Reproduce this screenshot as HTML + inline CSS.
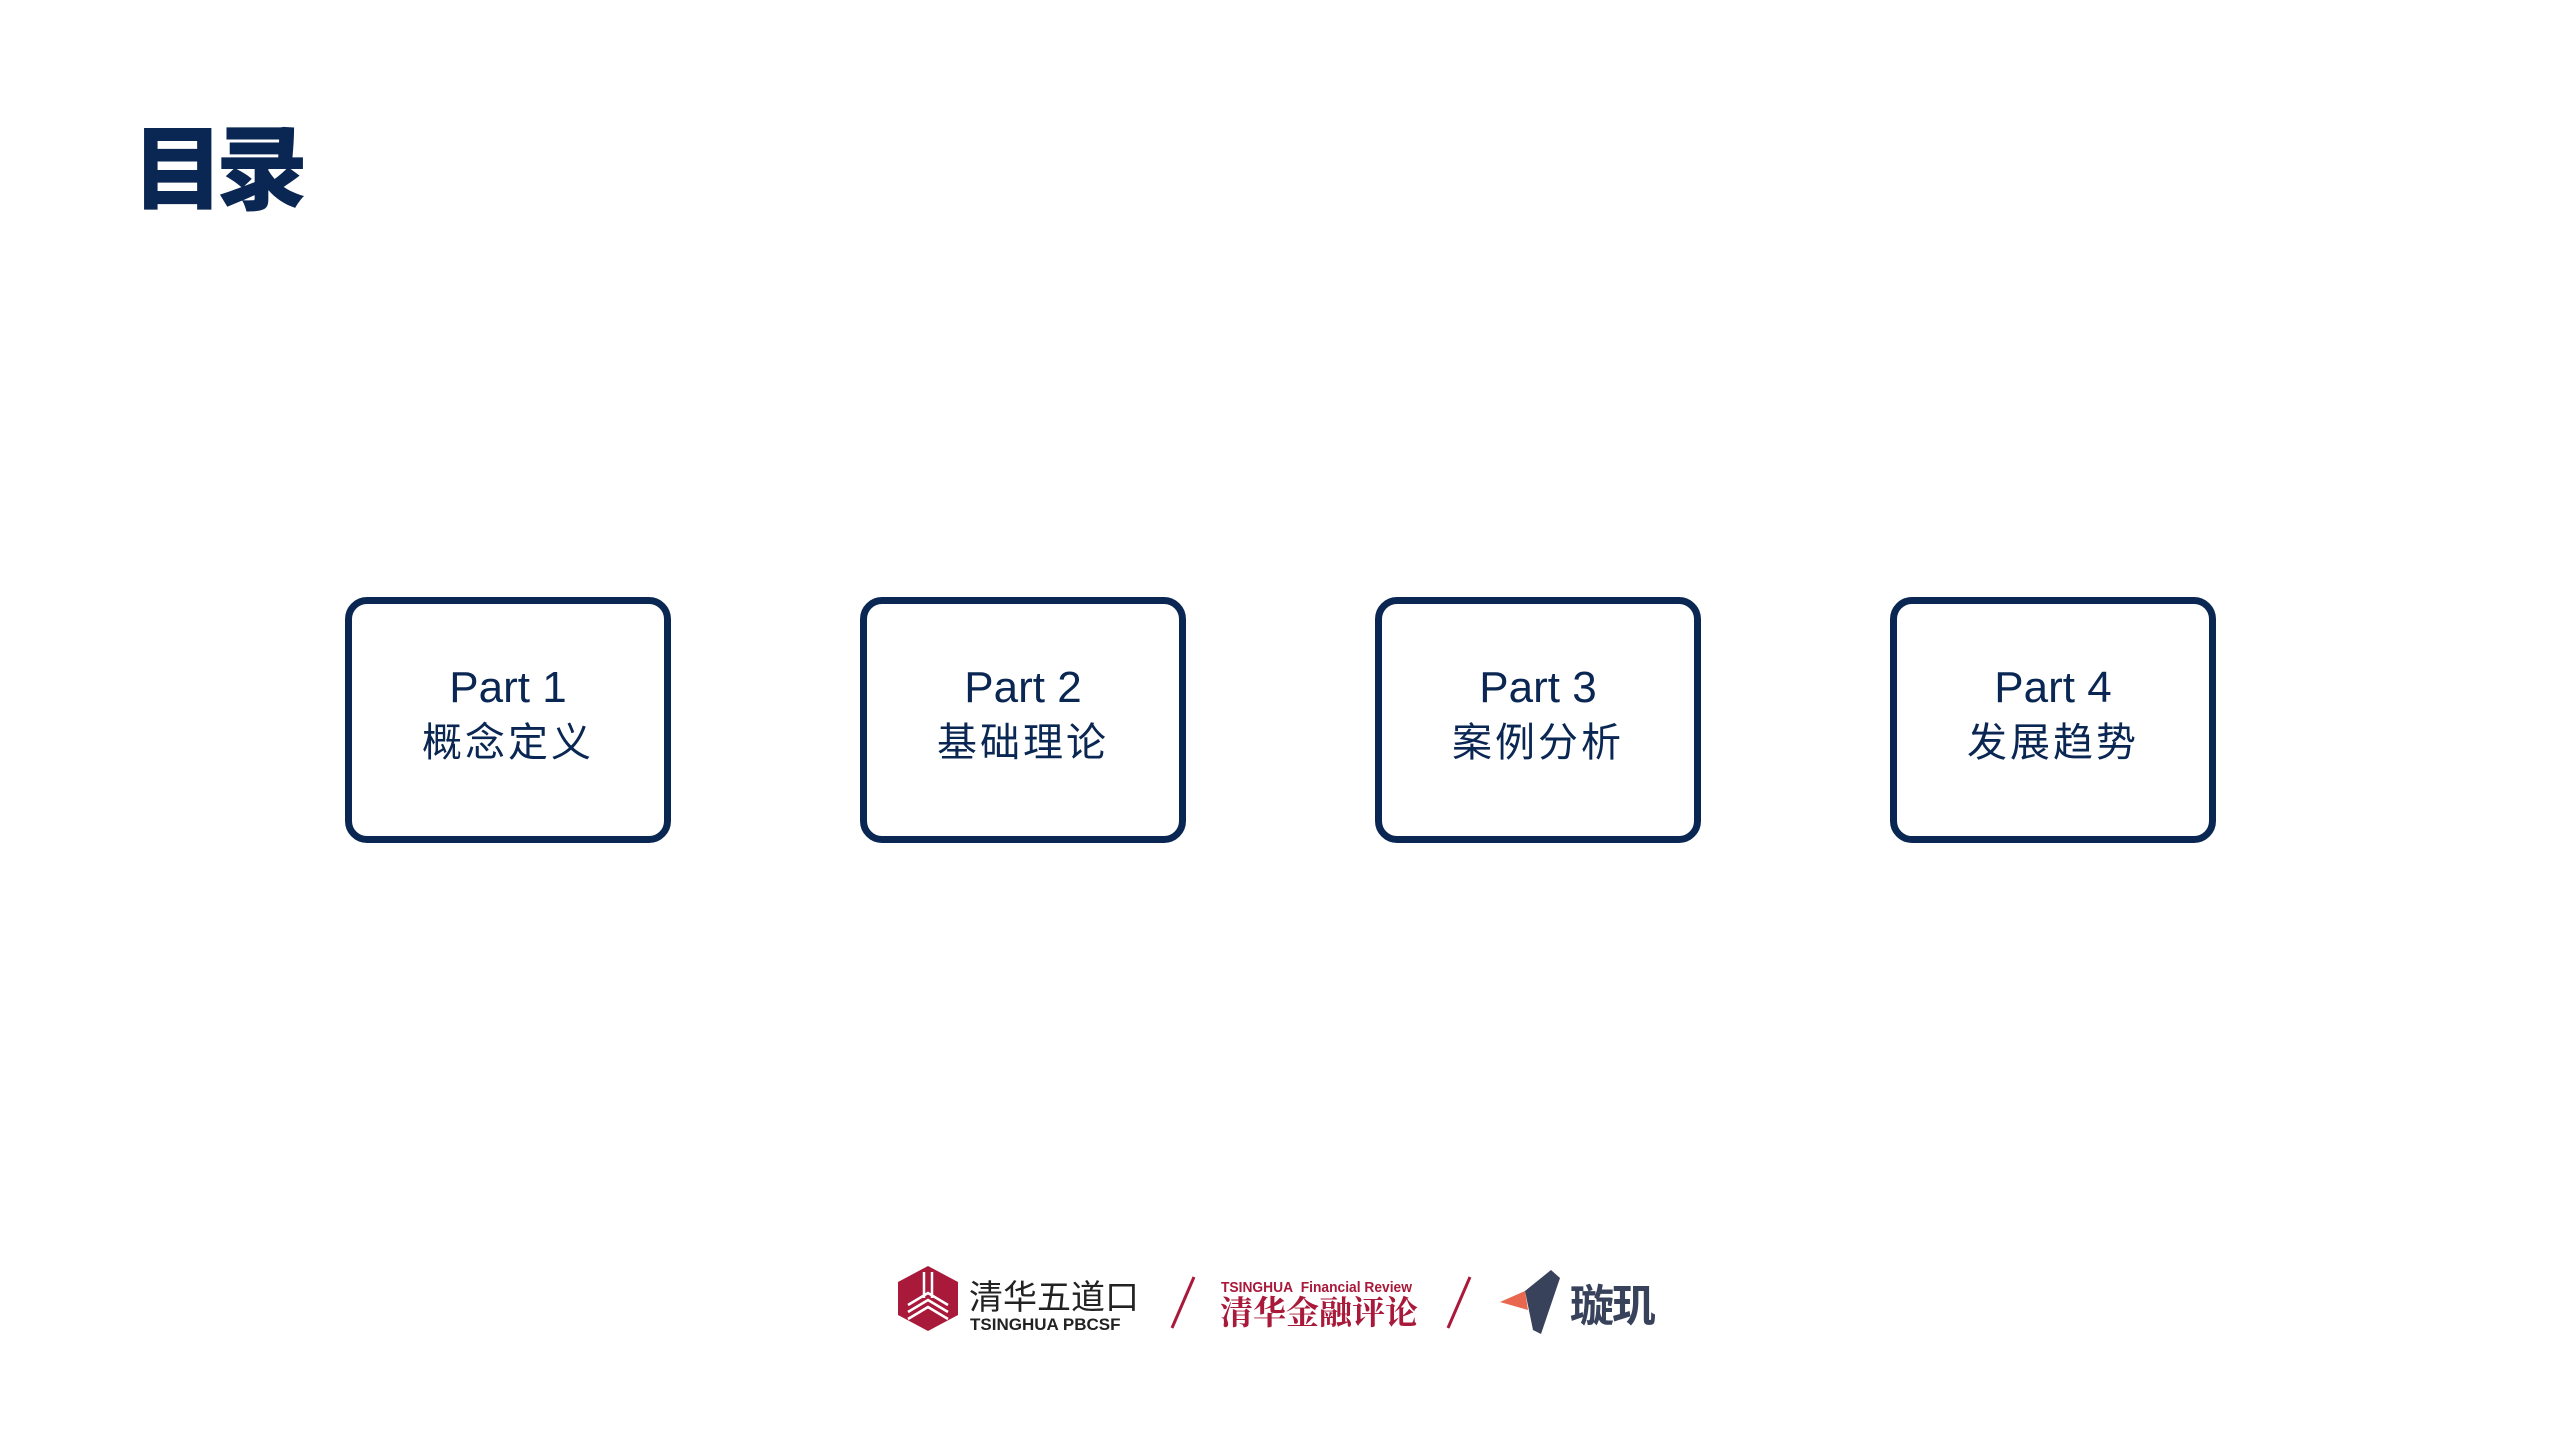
<!DOCTYPE html>
<html><head><meta charset="utf-8"><style>
*{margin:0;padding:0;box-sizing:border-box}
body{width:2560px;height:1440px;background:#fff;position:relative;overflow:hidden;font-family:"Liberation Sans","Noto Sans CJK SC",sans-serif;color:#0a2652}
.t{position:absolute;left:132px;top:117px;font-size:92px;font-weight:900;letter-spacing:-8px;line-height:1;font-family:"Noto Sans CJK SC",sans-serif;color:#0a2652}
.b{position:absolute;top:597px;width:326px;height:246px;border:7px solid #0a2652;border-radius:22px;text-align:center}
.p{position:absolute;left:0;right:0;top:62px;font-size:44px;line-height:1}
.c{position:absolute;left:0;right:0;top:115px;font-size:40px;line-height:1;font-family:"Noto Sans CJK SC",sans-serif;letter-spacing:3px}
.a{position:absolute;white-space:nowrap;line-height:1}
</style></head><body>
<div class="t">目录</div>
<div class="b" style="left:345px"><div class="p">Part 1</div><div class="c">概念定义</div></div>
<div class="b" style="left:860px"><div class="p">Part 2</div><div class="c">基础理论</div></div>
<div class="b" style="left:1375px"><div class="p">Part 3</div><div class="c">案例分析</div></div>
<div class="b" style="left:1890px"><div class="p">Part 4</div><div class="c">发展趋势</div></div>

<svg style="position:absolute;left:0;top:0" width="2560" height="1440">
<polygon points="898,1282 928,1266 958,1282 958,1315 928,1331 898,1315" fill="#a8193a"/>
<g stroke="#fff" stroke-width="2.5" fill="none">
<path d="M924,1272v26M932,1272v26M908,1305l20,-12l20,12M908,1312l20,-12l20,12M908,1319l20,-12l20,12"/>
</g>
<line x1="1194" y1="1277" x2="1172" y2="1328" stroke="#a8193a" stroke-width="3"/>
<line x1="1470" y1="1277" x2="1448" y2="1328" stroke="#a8193a" stroke-width="3"/>
<polygon points="1525,1291 1500,1302 1528,1310" fill="#e8674e"/>
<polygon points="1551,1270 1560,1278 1541,1334 1533,1330 1525,1291" fill="#38425a"/>
</svg>
<div class="a" style="left:969px;top:1278px;font-size:34px;font-family:'Noto Sans CJK SC',sans-serif;color:#222">清华五道口</div>
<div class="a" style="left:970px;top:1316px;font-size:17px;font-weight:bold;color:#222">TSINGHUA PBCSF</div>
<div class="a" style="left:1221px;top:1280px;font-size:15px;font-weight:bold;color:#a8193a;transform:scaleX(0.92);transform-origin:left">TSINGHUA&nbsp; Financial Review</div>
<div class="a" style="left:1220px;top:1294px;font-size:33px;font-weight:bold;font-family:'Noto Serif CJK SC',serif;color:#a8193a">清华金融评论</div>
<div class="a" style="left:1570px;top:1280px;font-size:44px;font-weight:bold;font-family:'Noto Sans CJK SC',sans-serif;color:#38425a;letter-spacing:-2px">璇玑</div>
</body></html>
